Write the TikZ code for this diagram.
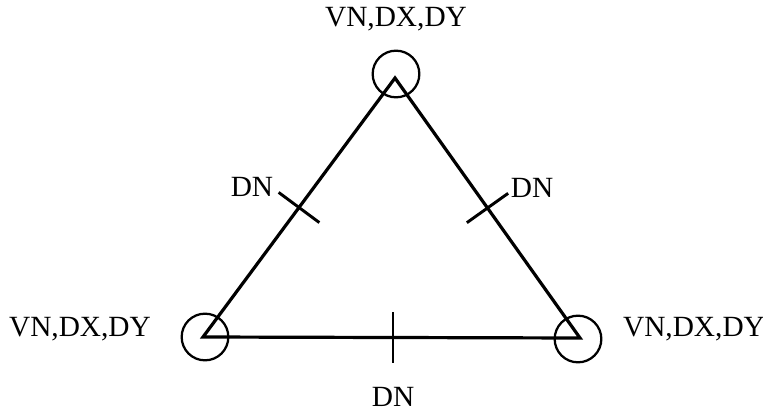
\documentclass[tikz,border=0pt]{standalone}
\usepackage{fontspec}
\setmainfont{Liberation Serif}
\usetikzlibrary{calc}
\begin{document}
\begin{tikzpicture}[x=0.75pt,y=-0.75pt,
  edge/.style={line width=2.4pt},
  tick/.style={line width=2.2pt},
  vcircle/.style={circle,draw,line width=1.7pt,minimum size=35pt,inner sep=0pt},
  lbl/.style={font=\fontsize{22}{24}\selectfont,inner sep=0pt}]
\useasboundingbox (0,0) rectangle (763,413);
\coordinate (T) at (395,78);
\coordinate (L) at (203,337);
\coordinate (R) at (580,338);
\node[vcircle] (cT) at (396,74) {};
\node[vcircle] (cL) at (205,337) {};
\node[vcircle] (cR) at (578,339) {};
\draw[edge,line join=miter] (L) -- (T) -- (R) -- cycle;
\coordinate (mL) at ($(L)!0.5!(T)$);
\coordinate (mR) at ($(T)!0.5!(R)$);
\coordinate (mB) at (393,337.5);
\draw[tick] ($(mL)!19pt!90:(T)$) -- ($(mL)!19pt!-90:(T)$);
\draw[tick] ($(mR)!19pt!90:(R)$) -- ($(mR)!19pt!-90:(R)$);
\draw[tick] (393,312) -- (393,363);
\node[lbl] (tT) at (396,19) {VN,DX,DY};
\node[lbl] (tL) at (80,329) {VN,DX,DY};
\node[lbl] (tR) at (694,329) {VN,DX,DY};
\node[lbl] (dL) at (252,187) {DN};
\node[lbl] (dR) at (532,188) {DN};
\node[lbl] (dB) at (393,397) {DN};
\end{tikzpicture}
\end{document}
